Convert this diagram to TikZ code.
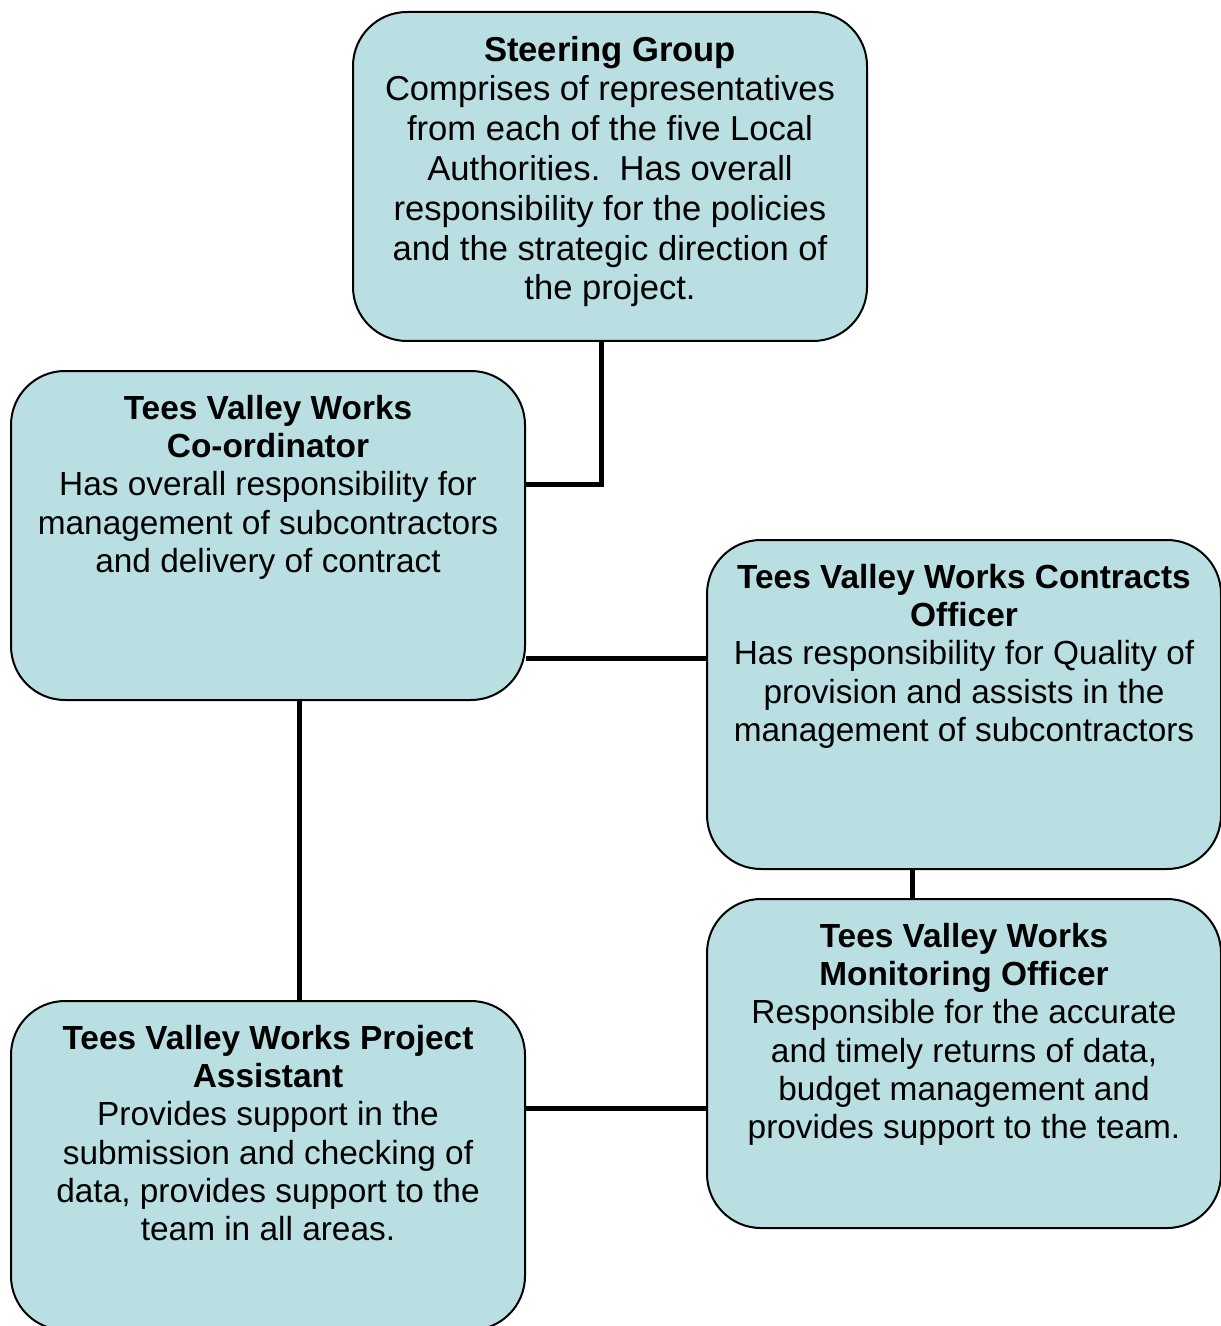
\documentclass[tikz,border=0pt]{standalone}
\usepackage{fontspec}
\setmainfont{Liberation Sans}
\usetikzlibrary{positioning}
\usetikzlibrary{calc}
\definecolor{postblue}{RGB}{185,223,227}

\begin{document}
\begin{tikzpicture}[x=0.5pt,y=-0.5pt]
		  \tikzset{
			post/.style={draw=black,line width=1pt,fill=postblue,rounded corners=27pt,
			  anchor=north west,inner xsep=3.5pt,inner ysep=12pt,
			  font=\fontsize{16.7}{19.15}\selectfont,
			  execute at begin node={\begin{minipage}[t][140.5pt][t]{250pt}\centering},
			  execute at end node={\end{minipage}}},
			bigpost/.style={post,font=\fontsize{17.3}{19.9}\selectfont},
			link/.style={draw=black,line width=2.5pt},
		  }
		  %FRAME
		  \useasboundingbox (0,0) rectangle (1220,1326);
		  %BOX STEERING GROUP
		  \node[bigpost] (steer) at (352,11) {\textbf{Steering Group}\\Comprises of representatives\\from each of the five Local\\Authorities.\ \ Has overall\\responsibility for the policies\\and the strategic direction of\\the project.};
		  %BOX CO-ORDINATOR
		  \node[post] (coord) at (10,370) {\textbf{Tees Valley Works}\\\textbf{Co-ordinator}\\Has overall responsibility for\\management of subcontractors\\and delivery of contract};
		  %BOX CONTRACTS OFFICER
		  \node[post] (contr) at (706,539) {\textbf{Tees Valley Works Contracts}\\\textbf{Officer}\\Has responsibility for Quality of\\provision and assists in the\\management of subcontractors};
		  %BOX MONITORING OFFICER
		  \node[post] (monit) at (706,898) {\textbf{Tees Valley Works}\\\textbf{Monitoring Officer}\\Responsible for the accurate\\and timely returns of data,\\budget management and\\provides support to the team.};
		  %BOX PROJECT ASSISTANT
		  \node[post] (assist) at (10,1000) {\textbf{Tees Valley Works Project}\\\textbf{Assistant}\\Provides support in the\\submission and checking of\\data, provides support to the\\team in all areas.};

		  %CONNECTORS
		  \draw[link] ([xshift=-4.5pt]steer.south) |- ([yshift=25.5pt]coord.east);
		  \draw[link] ([yshift=-61.5pt]coord.east) -- ([yshift=-61.5pt]coord.east -| contr.west);
		  \draw[link] ([xshift=15.5pt]coord.south) -- ([xshift=15.5pt]coord.south |- assist.north);
		  \draw[link] ([xshift=-25.75pt]contr.south) -- ([xshift=-25.75pt]contr.south |- monit.north);
		  \draw[link] ([yshift=-22.25pt]monit.west) -- ([yshift=-22.25pt]monit.west -| assist.east);
\end{tikzpicture}
\end{document}
